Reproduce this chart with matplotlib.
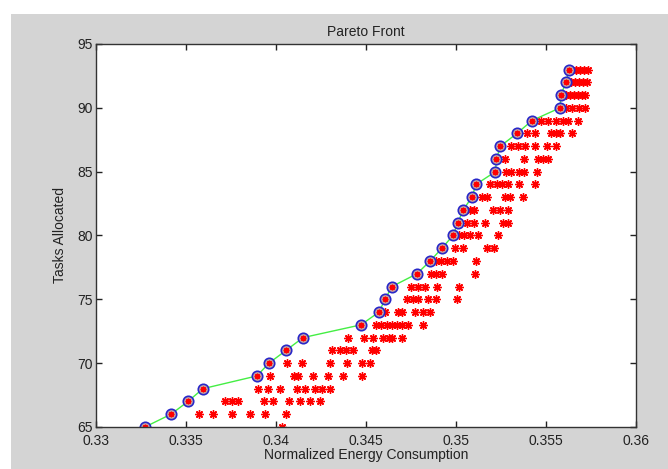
import numpy as np
import matplotlib
matplotlib.use('Agg')
import matplotlib.pyplot as plt
from matplotlib.patches import Rectangle

plt.rcParams['font.family'] = ['Liberation Sans', 'DejaVu Sans']

# pareto front (non-dominated solutions)
pareto_tasks = [65, 66, 67, 68, 69, 70, 71, 72, 73, 74, 75, 76, 77, 78, 79,
                80, 81, 82, 83, 84, 85, 86, 87, 88, 89, 90, 91, 92, 93]
pareto_energy = [0.33272, 0.33417, 0.33511, 0.33594, 0.33894, 0.33961, 0.34056,
                 0.34150, 0.34472, 0.34572, 0.34606, 0.34644, 0.34783, 0.34856,
                 0.34922, 0.34983, 0.35011, 0.35039, 0.35089, 0.35111, 0.35219,
                 0.35225, 0.35247, 0.35339, 0.35422, 0.35578, 0.35583, 0.35611,
                 0.35628]

# dominated solutions, energy values per tasks-allocated level
dominated = {
    65: [0.34033],
    66: [0.33572, 0.33650, 0.33756, 0.33856, 0.33939, 0.34056],
    67: [0.33719, 0.33754, 0.33791, 0.33933, 0.33985, 0.34075, 0.34133, 0.34189, 0.34244],
    68: [0.33900, 0.33956, 0.34022, 0.34114, 0.34161, 0.34217, 0.34254, 0.34300],
    69: [0.33969, 0.34100, 0.34122, 0.34207, 0.34291, 0.34374, 0.34476],
    70: [0.34059, 0.34146, 0.34300, 0.34393, 0.34476, 0.34522],
    71: [0.34311, 0.34356, 0.34389, 0.34428, 0.34533, 0.34556],
    72: [0.34400, 0.34489, 0.34539, 0.34594, 0.34628, 0.34644, 0.34700],
    73: [0.34556, 0.34583, 0.34617, 0.34644, 0.34672, 0.34700, 0.34733, 0.34817],
    74: [0.34606, 0.34678, 0.34700, 0.34772, 0.34817, 0.34856],
    75: [0.34728, 0.34761, 0.34789, 0.34844, 0.34889, 0.35006],
    76: [0.34750, 0.34789, 0.34828, 0.34894, 0.35017],
    77: [0.34861, 0.34889, 0.34922, 0.35106],
    78: [0.34889, 0.34917, 0.34950, 0.34983, 0.35111],
    79: [0.34994, 0.35039, 0.35172, 0.35211],
    80: [0.35017, 0.35044, 0.35078, 0.35122, 0.35233],
    81: [0.35061, 0.35100, 0.35161, 0.35261, 0.35289],
    82: [0.35078, 0.35100, 0.35206, 0.35244, 0.35289],
    83: [0.35144, 0.35172, 0.35272, 0.35300, 0.35372],
    84: [0.35189, 0.35228, 0.35256, 0.35289, 0.35350, 0.35439],
    85: [0.35278, 0.35306, 0.35350, 0.35378, 0.35450],
    86: [0.35272, 0.35378, 0.35456, 0.35483, 0.35511],
    87: [0.35306, 0.35344, 0.35383, 0.35439, 0.35506, 0.35556],
    88: [0.35394, 0.35439, 0.35528, 0.35556, 0.35578, 0.35644],
    89: [0.35472, 0.35511, 0.35556, 0.35594, 0.35622, 0.35678],
    90: [0.35611, 0.35644, 0.35683, 0.35717],
    91: [0.35611, 0.35633, 0.35656, 0.35678, 0.35700, 0.35717],
    92: [0.35639, 0.35661, 0.35683, 0.35706, 0.35728],
    93: [0.35644, 0.35667, 0.35689, 0.35711, 0.35733],
}

x_ticks = [0.33, 0.335, 0.34, 0.345, 0.35, 0.355, 0.36]
x_tick_labels = ['0.33', '0.335', '0.34', '0.345', '0.35', '0.355', '0.36']
y_ticks = [65, 70, 75, 80, 85, 90, 95]

dom_x = []
dom_y = []
for t, vals in dominated.items():
    dom_x += vals
    dom_y += [t] * len(vals)

fig = plt.figure(figsize=(6.68, 4.69), dpi=100, facecolor='#d4d4d4')
# white margin on top / left like the screenshot
fig.patches.append(Rectangle((0, 0.97), 1, 0.03, transform=fig.transFigure,
                             facecolor='white', edgecolor='none', zorder=-1))
fig.patches.append(Rectangle((0, 0), 0.016, 1, transform=fig.transFigure,
                             facecolor='white', edgecolor='none', zorder=-1))

ax = fig.add_axes([0.1437, 0.0896, 0.8084, 0.8166])
ax.set_facecolor('white')

ast = (8, 2, 0)
ax.plot(dom_x, dom_y, linestyle='none', marker=ast, markersize=6,
        markeredgecolor='red', markeredgewidth=1.0)
ax.plot(pareto_energy, pareto_tasks, color='#44ee44', linewidth=1)
ax.plot(pareto_energy, pareto_tasks, linestyle='none', marker='o', markersize=7.5,
        markerfacecolor='#c8a0a0', markeredgecolor='#2828c8', markeredgewidth=1.2)
ax.plot(pareto_energy, pareto_tasks, linestyle='none', marker=ast, markersize=4,
        markeredgecolor='red', markeredgewidth=0.9)

ax.set_xlim(0.33, 0.36)
ax.set_ylim(65, 95)
ax.set_xticks(x_ticks)
ax.set_xticklabels(x_tick_labels)
ax.set_yticks(y_ticks)
ax.tick_params(direction='in', length=4, width=1, top=True, right=True,
               labelsize=10, colors='#222222')
ax.tick_params(axis='x', pad=5)
ax.tick_params(axis='y', pad=2)
for s in ax.spines.values():
    s.set_color('#333333')
    s.set_linewidth(1)

ax.set_title('Pareto Front', fontsize=10, color='#222222', pad=6)
ax.set_xlabel('Normalized Energy Consumption', fontsize=10, color='#222222', labelpad=0)
ax.set_ylabel('Tasks Allocated', fontsize=10, color='#222222', labelpad=8)

fig.savefig('out.png', dpi=100, facecolor=fig.get_facecolor())
